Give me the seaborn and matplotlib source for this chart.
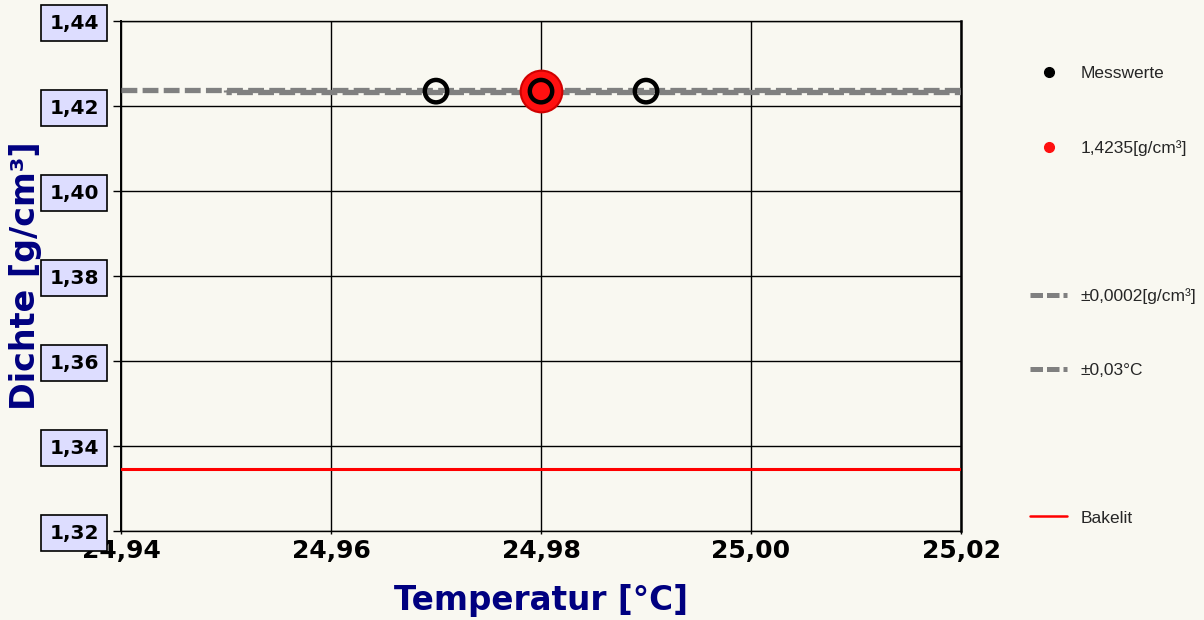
import matplotlib
matplotlib.use("Agg")
import matplotlib.pyplot as plt
from matplotlib.lines import Line2D
import seaborn as sns
import pandas as pd

# Messwerte
temperatur = [24.97, 24.98, 24.99]
dichte = [1.4235, 1.4235, 1.4235]

# Mittelwert
mittel_t = [24.98]
mittel_d = [1.4235]

# Toleranz Dichte +-0,0002
tol_oben_t = [24.94, 25.02]
tol_oben_d = [1.4237, 1.4237]
tol_unten_t = [24.95, 25.02]
tol_unten_d = [1.4233, 1.4233]

# Toleranz Temperatur +-0,03
tol_links_t = [24.95, 24.95]
tol_rechts_t = [25.01, 25.01]
tol_t_d = [1.4233, 1.4237]

# Bakelit Referenz
bakelit_t = [24.94, 25.02]
bakelit_d = [1.3345, 1.3345]

x_ticks = [24.94, 24.96, 24.98, 25.00, 25.02]
y_ticks = [1.32, 1.34, 1.36, 1.38, 1.40, 1.42, 1.44]

bg = "#F9F8F1"
grau = "#808080"
navy = "#000080"

sns.set_theme(style="white")
plt.rcParams["font.family"] = ["DejaVu Sans"]

fig = plt.figure(figsize=(12.04, 6.2), dpi=100, facecolor=bg)
ax = fig.add_axes([0.1005, 0.1435, 0.6977, 0.8226])
ax.set_facecolor(bg)

dash = (0, (3, 1))
ax.plot(tol_oben_t, tol_oben_d, color=grau, lw=3.8, linestyle=dash, zorder=3)
ax.plot(tol_unten_t, tol_unten_d, color=grau, lw=3.8, linestyle=(2, (3, 1)), zorder=3)
ax.plot(tol_links_t, tol_t_d, color=grau, lw=3.8, linestyle=dash, zorder=3)
ax.plot(tol_rechts_t, tol_t_d, color=grau, lw=3.8, linestyle=dash, zorder=3)

bak = pd.DataFrame({"t": bakelit_t, "d": bakelit_d})
sns.lineplot(data=bak, x="t", y="d", ax=ax, color="#FF0000", lw=2.2, zorder=3)

mit = pd.DataFrame({"t": mittel_t, "d": mittel_d})
sns.scatterplot(data=mit, x="t", y="d", ax=ax, s=900, color="#FF1010",
                edgecolor="#D00000", linewidth=1.5, zorder=4)

mess = pd.DataFrame({"t": temperatur, "d": dichte})
sns.scatterplot(data=mess, x="t", y="d", ax=ax, s=260, facecolor="none",
                edgecolor="black", linewidth=3.2, zorder=5)

ax.set_xlim(24.94, 25.02)
ax.set_ylim(1.32, 1.44)
ax.set_xticks(x_ticks)
ax.set_yticks(y_ticks)
ax.set_xticklabels([f"{v:.2f}".replace(".", ",") for v in x_ticks],
                   fontsize=18, fontweight="heavy", color="black")
ax.set_yticklabels([f"{v:.2f}".replace(".", ",") for v in y_ticks],
                   fontsize=14.5, fontweight="heavy", color="black")
for lab in ax.get_yticklabels():
    lab.set_bbox(dict(boxstyle="square,pad=0.4", facecolor="#DDDDFF",
                      edgecolor="black", linewidth=1.2))
ax.tick_params(axis="y", direction="out", length=6, width=1, color="black",
               pad=10, left=True)
ax.tick_params(axis="x", direction="out", length=2, width=1, color="black",
               pad=4, bottom=True)

ax.grid(True, color="black", lw=1)
for s in ax.spines.values():
    s.set_color("black")
    s.set_linewidth(1)
ax.spines["right"].set_linewidth(1.8)
ax.spines["left"].set_linewidth(1.4)

ax.set_xlabel("Temperatur [°C]", fontsize=23.5, fontweight="bold", color=navy)
ax.xaxis.set_label_coords(0.5, -0.104)
ax.set_ylabel("Dichte [g/cm³]", fontsize=24, fontweight="bold", color=navy)
ax.yaxis.set_label_coords(-0.094, 0.5)

leer = Line2D([], [], linestyle="none")
handles = [
    Line2D([], [], marker="o", linestyle="none", color="black", markersize=7),
    Line2D([], [], marker="o", linestyle="none", color="#FF1010", markersize=7),
    leer,
    Line2D([], [], color=grau, lw=3.6, linestyle=(0, (2.5, 0.8))),
    Line2D([], [], color=grau, lw=3.6, linestyle=(0, (2.5, 0.8))),
    leer,
    Line2D([], [], color="#FF0000", lw=1.8),
]
labels = ["Messwerte", "1,4235[g/cm³]", "", "±0,0002[g/cm³]", "±0,03°C", "", "Bakelit"]
fig.legend(handles, labels, loc="upper left", bbox_to_anchor=(0.8497, 0.905),
           frameon=False, handlelength=2.15, handletextpad=0.75,
           labelspacing=3.38, borderaxespad=0,
           prop={"family": ["Liberation Sans"], "size": 12.5})

fig.savefig("out.png", dpi=100, facecolor=bg)
